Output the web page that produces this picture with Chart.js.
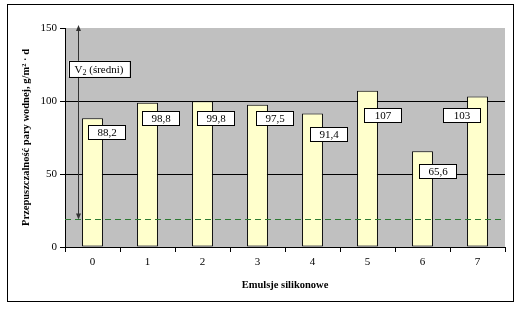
<!DOCTYPE html>
<html>
<head>
<meta charset="utf-8">
<script src="https://cdn.jsdelivr.net/npm/chart.js@4/dist/chart.umd.min.js"></script>
<style>
html,body{margin:0;padding:0;background:#fff;}
#wrap{width:525px;height:309px;}
</style>
</head>
<body>
<div id="wrap"><canvas id="c" width="525" height="309"></canvas></div>
<script>
const categories = ['0','1','2','3','4','5','6','7'];
const values = [88.2, 98.8, 99.8, 97.5, 91.4, 107, 65.6, 103];
const valueLabels = ['88,2','98,8','99,8','97,5','91,4','107','65,6','103'];
const yTicks = [0, 50, 100, 150];
const averageValue = [19.5];
const averageLabel = ['V', '2', ' (średni)'];
const xTitle = 'Emulsje silikonowe';
const yTitle = 'Przepuszczalność pary wodnej, g/m² · d';

const SERIF = '"Liberation Serif", "Times New Roman", serif';

// label offsets relative to each bar top/centre (Excel manual placement)
const labelOffsetX = [13.5, 13, 12.5, 16.5, 16, 14.5, 14.5, -16.5];
const labelOffsetY = [14, 15.5, 16.5, 13.6, 20, 24, 20, 18.6];

const decor = {
  id: 'decor',
  beforeDraw(chart) {
    const {ctx, chartArea: a} = chart;
    ctx.save();
    ctx.fillStyle = '#ffffff';
    ctx.fillRect(0, 0, chart.width, chart.height);
    ctx.fillStyle = '#c0c0c0';
    ctx.fillRect(a.left, a.top, a.right - a.left, a.bottom - a.top);
    ctx.restore();
  },
  afterDatasetsDraw(chart) {
    const {ctx, chartArea: a, scales} = chart;
    const y = scales.y;
    const meta = chart.getDatasetMeta(0);
    ctx.save();
    // average dashed line
    const ya = Math.round(y.getPixelForValue(averageValue[0])) + 0.5;
    ctx.strokeStyle = '#2e7a34';
    ctx.lineWidth = 1;
    ctx.setLineDash([6, 4]);
    ctx.beginPath();
    ctx.moveTo(a.left, ya);
    ctx.lineTo(a.right - 4, ya);
    ctx.stroke();
    ctx.setLineDash([]);

    // double arrow
    const ax = a.left + 13.5;
    const yTop = y.getPixelForValue(150) - 3;
    ctx.strokeStyle = '#333';
    ctx.fillStyle = '#333';
    ctx.beginPath();
    ctx.moveTo(ax, yTop + 2);
    ctx.lineTo(ax, ya - 2);
    ctx.stroke();
    ctx.beginPath();
    ctx.moveTo(ax, yTop); ctx.lineTo(ax - 2.5, yTop + 6); ctx.lineTo(ax + 2.5, yTop + 6); ctx.closePath(); ctx.fill();
    ctx.beginPath();
    ctx.moveTo(ax, ya); ctx.lineTo(ax - 2.5, ya - 6); ctx.lineTo(ax + 2.5, ya - 6); ctx.closePath(); ctx.fill();

    // V2 label box
    const vy = y.getPixelForValue(122);
    const bx = a.left + 3.5, bw = 61, bh = 16;
    ctx.fillStyle = '#fff';
    ctx.fillRect(bx, vy - bh / 2, bw, bh);
    ctx.strokeStyle = '#000';
    ctx.strokeRect(Math.round(bx) + 0.5, Math.round(vy - bh / 2) + 0.5, bw, bh);
    ctx.fillStyle = '#000';
    ctx.textBaseline = 'alphabetic';
    ctx.textAlign = 'left';
    ctx.font = '11px ' + SERIF;
    const w1 = ctx.measureText(averageLabel[0]).width;
    ctx.font = '8px ' + SERIF;
    const w2 = ctx.measureText(averageLabel[1]).width;
    ctx.font = '11px ' + SERIF;
    const w3 = ctx.measureText(averageLabel[2]).width;
    let tx = bx + (bw - (w1 + w2 + w3)) / 2;
    const base = vy + 4;
    ctx.fillText(averageLabel[0], tx, base);
    ctx.font = '8px ' + SERIF;
    ctx.fillText(averageLabel[1], tx + w1, base + 2);
    ctx.font = '11px ' + SERIF;
    ctx.fillText(averageLabel[2], tx + w1 + w2, base);

    // data labels
    ctx.font = '11px ' + SERIF;
    ctx.textAlign = 'center';
    ctx.textBaseline = 'middle';
    meta.data.forEach((bar, i) => {
      const cx = bar.x + labelOffsetX[i];
      const cy = bar.y + labelOffsetY[i];
      const w = 37, h = 14;
      const lx = Math.round(cx - w / 2) + 0.5, ly = Math.round(cy - h / 2) + 0.5;
      ctx.fillStyle = '#fff';
      ctx.fillRect(lx, ly, w, h);
      ctx.strokeStyle = '#000';
      ctx.strokeRect(lx, ly, w, h);
      ctx.fillStyle = '#000';
      ctx.fillText(valueLabels[i], lx + w / 2, ly + h / 2 + 1);
    });
    ctx.restore();
  },
  afterDraw(chart) {
    const {ctx} = chart;
    ctx.save();
    ctx.strokeStyle = '#000';
    ctx.lineWidth = 1;
    ctx.strokeRect(7.5, 4.5, 506, 297);
    ctx.restore();
  }
};

new Chart(document.getElementById('c'), {
  type: 'bar',
  data: {
    labels: categories,
    datasets: [{
      data: values,
      backgroundColor: '#ffffcc',
      borderColor: '#000',
      borderWidth: 1,
      borderSkipped: false,
      barPercentage: 0.38,
      categoryPercentage: 1
    }]
  },
  options: {
    responsive: false,
    animation: false,
    devicePixelRatio: 1,
    layout: {padding: {left: 0, right: 20, top: 28, bottom: 0}},
    plugins: {legend: {display: false}, tooltip: {enabled: false}},
    scales: {
      x: {
        offset: true,
        grid: {display: true, drawOnChartArea: false, offset: true, color: '#000', tickColor: '#000', tickLength: 5},
        border: {display: true, color: '#000', width: 1},
        ticks: {color: '#000', font: {family: SERIF, size: 11}, padding: 4, maxRotation: 0},
        title: {display: true, text: xTitle, color: '#000', font: {family: SERIF, size: 10.5, weight: 'bold'}, padding: {top: 0, bottom: 17}},
        afterFit(s) { s.height = 62; }
      },
      y: {
        min: 0, max: 150,
        afterBuildTicks(s) { s.ticks = yTicks.map(v => ({value: v})); },
        grid: {
          color: ctx => (ctx.tick && (ctx.tick.value === 50 || ctx.tick.value === 100)) ? '#000' : 'rgba(0,0,0,0)',
          tickColor: '#000', tickLength: 5
        },
        border: {display: true, color: '#000', width: 1},
        ticks: {color: '#000', font: {family: SERIF, size: 11}, padding: 3},
        title: {display: true, text: yTitle, color: '#000', font: {family: SERIF, size: 10.5, weight: 'bold'}, padding: {top: 20, bottom: 0}},
        afterFit(s) { s.width = 65; }
      }
    }
  },
  plugins: [decor]
});
</script>
</body>
</html>
